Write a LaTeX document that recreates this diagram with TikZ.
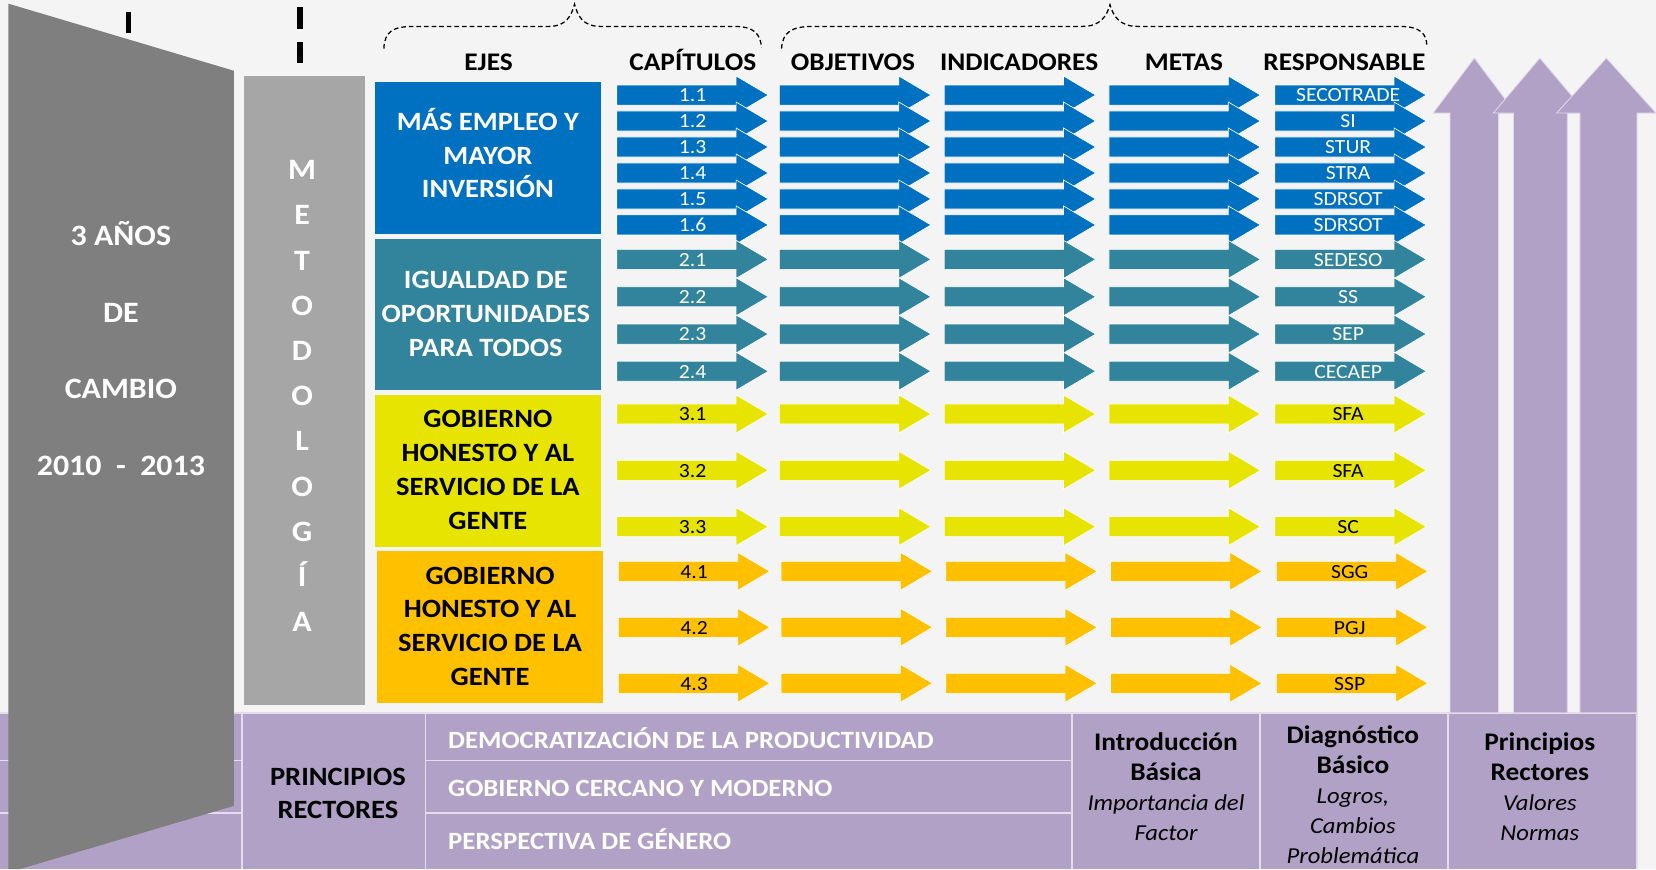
\documentclass[tikz,border=0pt]{standalone}
\usepackage{fontspec}
\setmainfont{Carlito}[FakeStretch=1.08]
\usepackage{tikz}
\usetikzlibrary{arrows.meta}
\definecolor{azul}{RGB}{0,112,192}
\definecolor{verdeazul}{RGB}{49,132,155}
\definecolor{amarillo}{RGB}{230,228,0}
\definecolor{naranja}{RGB}{255,192,0}
\definecolor{grisoscuro}{RGB}{127,127,127}
\definecolor{grisclaro}{RGB}{166,166,166}
\definecolor{lila}{RGB}{178,161,199}
\definecolor{fondo}{RGB}{244,244,244}

\begin{document}
\begin{tikzpicture}[>=latex, x=0.5pt, y=-0.5pt,
	titulo/.style={font=\bfseries\fontsize{12}{14}\selectfont, anchor=base, inner sep=0pt},
	eje/.style={font=\bfseries\fontsize{12.5}{16}\selectfont, align=center, inner sep=0pt},
	etiqueta/.style={font=\fontsize{9.5}{11}\selectfont, anchor=base, inner sep=0pt},
	flecha/.style={draw=white, line width=0.3pt},
	raya/.style={draw=lila!35!white, line width=0.8pt},
	celda/.style={font=\fontsize{12}{14.2}\selectfont, align=center, inner sep=0pt},
	llave/.style={line width=0.6pt, dash pattern=on 2.2pt off 1.4pt}]
	%%%	Help Lines
%	\draw [thin, help lines] (0,0) grid[step=50] (1568,823);
%	\foreach \x in {0,100,...,1500}
%	\draw (\x,0) -- (\x,5) node[anchor=north] {$\x$};
	%%%	Fondo
	\useasboundingbox (0,0) rectangle (1568,823);
	\fill[fondo] (0,0) rectangle (1568,823);
	%%%	Franja inferior
	\fill[lila] (0,675) rectangle (1550,823);
	\draw[raya] (0,675) -- (1550,675);
	\draw[raya] (0,720) -- (229,720);
	\draw[raya] (0,770) -- (229,770);
	\draw[raya] (403,720) -- (1015,720);
	\draw[raya] (403,770) -- (1015,770);
	\foreach \x in {229,403,1015,1193,1371,1550}
	\draw[raya] (\x,675) -- (\x,823);
	%%%	3 anios
	\fill[grisoscuro] (8,3.5) -- (221.5,67) -- (221.5,763) -- (18.5,823) -- (8,823) -- cycle;
	\node[white, font=\bfseries\fontsize{14}{36.35}\selectfont, align=center, inner sep=0pt] (anios) at (114.5,330) {3 AÑOS\\DE\\CAMBIO\\2010\ \ -\ \ 2013};
	%%%	Metodologia
	\fill[grisclaro] (231,72) rectangle (345.5,667.5);
	\node[white, font=\bfseries\fontsize{14}{21.4}\selectfont, align=center, inner sep=0pt] (metodologia) at (286,375) {M\\E\\T\\O\\D\\O\\L\\O\\G\\Í\\A};
	\draw[line width=2.5pt] (122,11.6) -- (122,31.6);
	\draw[line width=2.5pt] (284,7) -- (284,27);
	\draw[line width=2.5pt] (284,40) -- (284,60);
	%%%	Llaves
	\draw[llave] (363.5,46) .. controls (364,30) and (372,25) .. (392,25) -- (520,25) .. controls (536,25) and (541,15) .. (544,4) .. controls (547,15) and (552,25) .. (568,25) -- (695,25) .. controls (714,25) and (720,32) .. (721,45);
	\draw[llave] (740,46) .. controls (741,30) and (750,25) .. (770,25) -- (1025,25) .. controls (1042,25) and (1048,15) .. (1051,4.5) .. controls (1054,15) and (1060,25) .. (1077,25) -- (1325,25) .. controls (1345,25) and (1351,32) .. (1351,44);
	%%%	Titulos
	\node[titulo] (ejes) at (462.6,67.2) {EJES};
	\node[titulo] (capitulos) at (656,67.2) {CAPÍTULOS};
	\node[titulo] (objetivos) at (807.7,67.2) {OBJETIVOS};
	\node[titulo] (indicadores) at (965,67.2) {INDICADORES};
	\node[titulo] (metas) at (1121,67.2) {METAS};
	\node[titulo] (responsable) at (1273,67.2) {RESPONSABLE};
	%%%	Ejes
	\fill[azul] (355,78) rectangle (569,221.5);
	\node[eje, white] (eje1) at (462,145) {MÁS EMPLEO Y\\MAYOR\\INVERSIÓN};
	\fill[verdeazul] (355,226) rectangle (569,369.5);
	\node[eje, white] (eje2) at (460,297) {IGUALDAD DE\\OPORTUNIDADES\\PARA TODOS};
	\fill[amarillo] (355,374) rectangle (569,517.5);
	\node[eje] (eje3) at (462,445) {GOBIERNO\\HONESTO Y AL\\SERVICIO DE LA\\GENTE};
	\fill[naranja] (357,522) rectangle (571,665.5);
	\node[eje] (eje4) at (464,593) {GOBIERNO\\HONESTO Y AL\\SERVICIO DE LA\\GENTE};
	%%%	Flechas
	\foreach \y/\dx/\col/\tc/\capi/\resp [count=\n] in {
		90/0/azul/white/1.1/SECOTRADE, 114.6/0/azul/white/1.2/SI,
		139.2/0/azul/white/1.3/STUR, 163.8/0/azul/white/1.4/STRA,
		188.4/0/azul/white/1.5/SDRSOT, 213/0/azul/white/1.6/SDRSOT,
		245.6/0/verdeazul/white/2.1/SEDESO, 281/0/verdeazul/white/2.2/SS,
		316.3/0/verdeazul/white/2.3/SEP, 351.5/0/verdeazul/white/2.4/CECAEP,
		392/0/amarillo/black/3.1/SFA, 445.3/0/amarillo/black/3.2/SFA,
		498.7/0/amarillo/black/3.3/SC,
		541/1.5/naranja/black/4.1/SGG, 594/1.5/naranja/black/4.2/PGJ,
		647/1.5/naranja/black/4.3/SSP}
	{
		\foreach \x in {584,738,894,1050,1207}
		\filldraw[flecha, fill=\col] (\x+\dx,\y-9.5) -- ++(113,0) -- ++(0,-8.5) -- ++(30.5,18) -- ++(-30.5,18) -- ++(0,-8.5) -- ++(-113,0) -- cycle;
		\node[etiqueta, \tc] (cap\n) at (655.75+\dx,\y+6.5) {\capi};
		\node[etiqueta, \tc] (resp\n) at (1276.5+\dx,\y+6.5) {\resp};
	}
	%%%	Flechas hacia arriba
	\filldraw[fill=lila, draw=white!60!lila, line width=0.4pt] (1373,675) -- (1373,107) -- (1357,107) -- (1396,55) -- (1435,107) -- (1419,107) -- (1419,675) -- cycle;
	\filldraw[fill=lila, draw=white!60!lila, line width=0.4pt] (1433,675) -- (1433,107) -- (1414,107) -- (1458,55) -- (1502,107) -- (1484,107) -- (1484,675) -- cycle;
	\filldraw[fill=lila, draw=white!60!lila, line width=0.4pt] (1496,675) -- (1496,107) -- (1474,107) -- (1521,55) -- (1568,107) -- (1550,107) -- (1550,675) -- cycle;
	%%%	Celdas
	\node[celda, font=\bfseries\fontsize{12.5}{15.75}\selectfont] (principios) at (320,751.3) {PRINCIPIOS\\RECTORES};
	\node[celda, white, anchor=base west, font=\bfseries\fontsize{11.75}{14}\selectfont] (democratizacion) at (424,708.6) {DEMOCRATIZACIÓN DE LA PRODUCTIVIDAD};
	\node[celda, white, anchor=base west, font=\bfseries\fontsize{11.75}{14}\selectfont] (gobierno) at (424,754.4) {GOBIERNO CERCANO Y MODERNO};
	\node[celda, white, anchor=base west, font=\bfseries\fontsize{11.75}{14}\selectfont] (perspectiva) at (424,804.3) {PERSPECTIVA DE GÉNERO};
	\node[celda] (introduccion) at (1104,744.7) {\textbf{Introducción}\\\textbf{Básica}\\{\fontsize{10.8}{14.2}\selectfont\itshape Importancia del}\\{\fontsize{10.8}{14.2}\selectfont\itshape Factor}};
	\node[celda] (diagnostico) at (1281,752.8) {\textbf{Diagnóstico}\\\textbf{Básico}\\{\fontsize{10.8}{14.2}\selectfont\itshape Logros,}\\{\fontsize{10.8}{14.2}\selectfont\itshape Cambios}\\{\fontsize{10.8}{14.2}\selectfont\itshape Problemática}};
	\node[celda] (rectores) at (1458,744.7) {\textbf{Principios}\\\textbf{Rectores}\\{\fontsize{10.8}{14.2}\selectfont\itshape Valores}\\{\fontsize{10.8}{14.2}\selectfont\itshape Normas}};
\end{tikzpicture}
\end{document}
